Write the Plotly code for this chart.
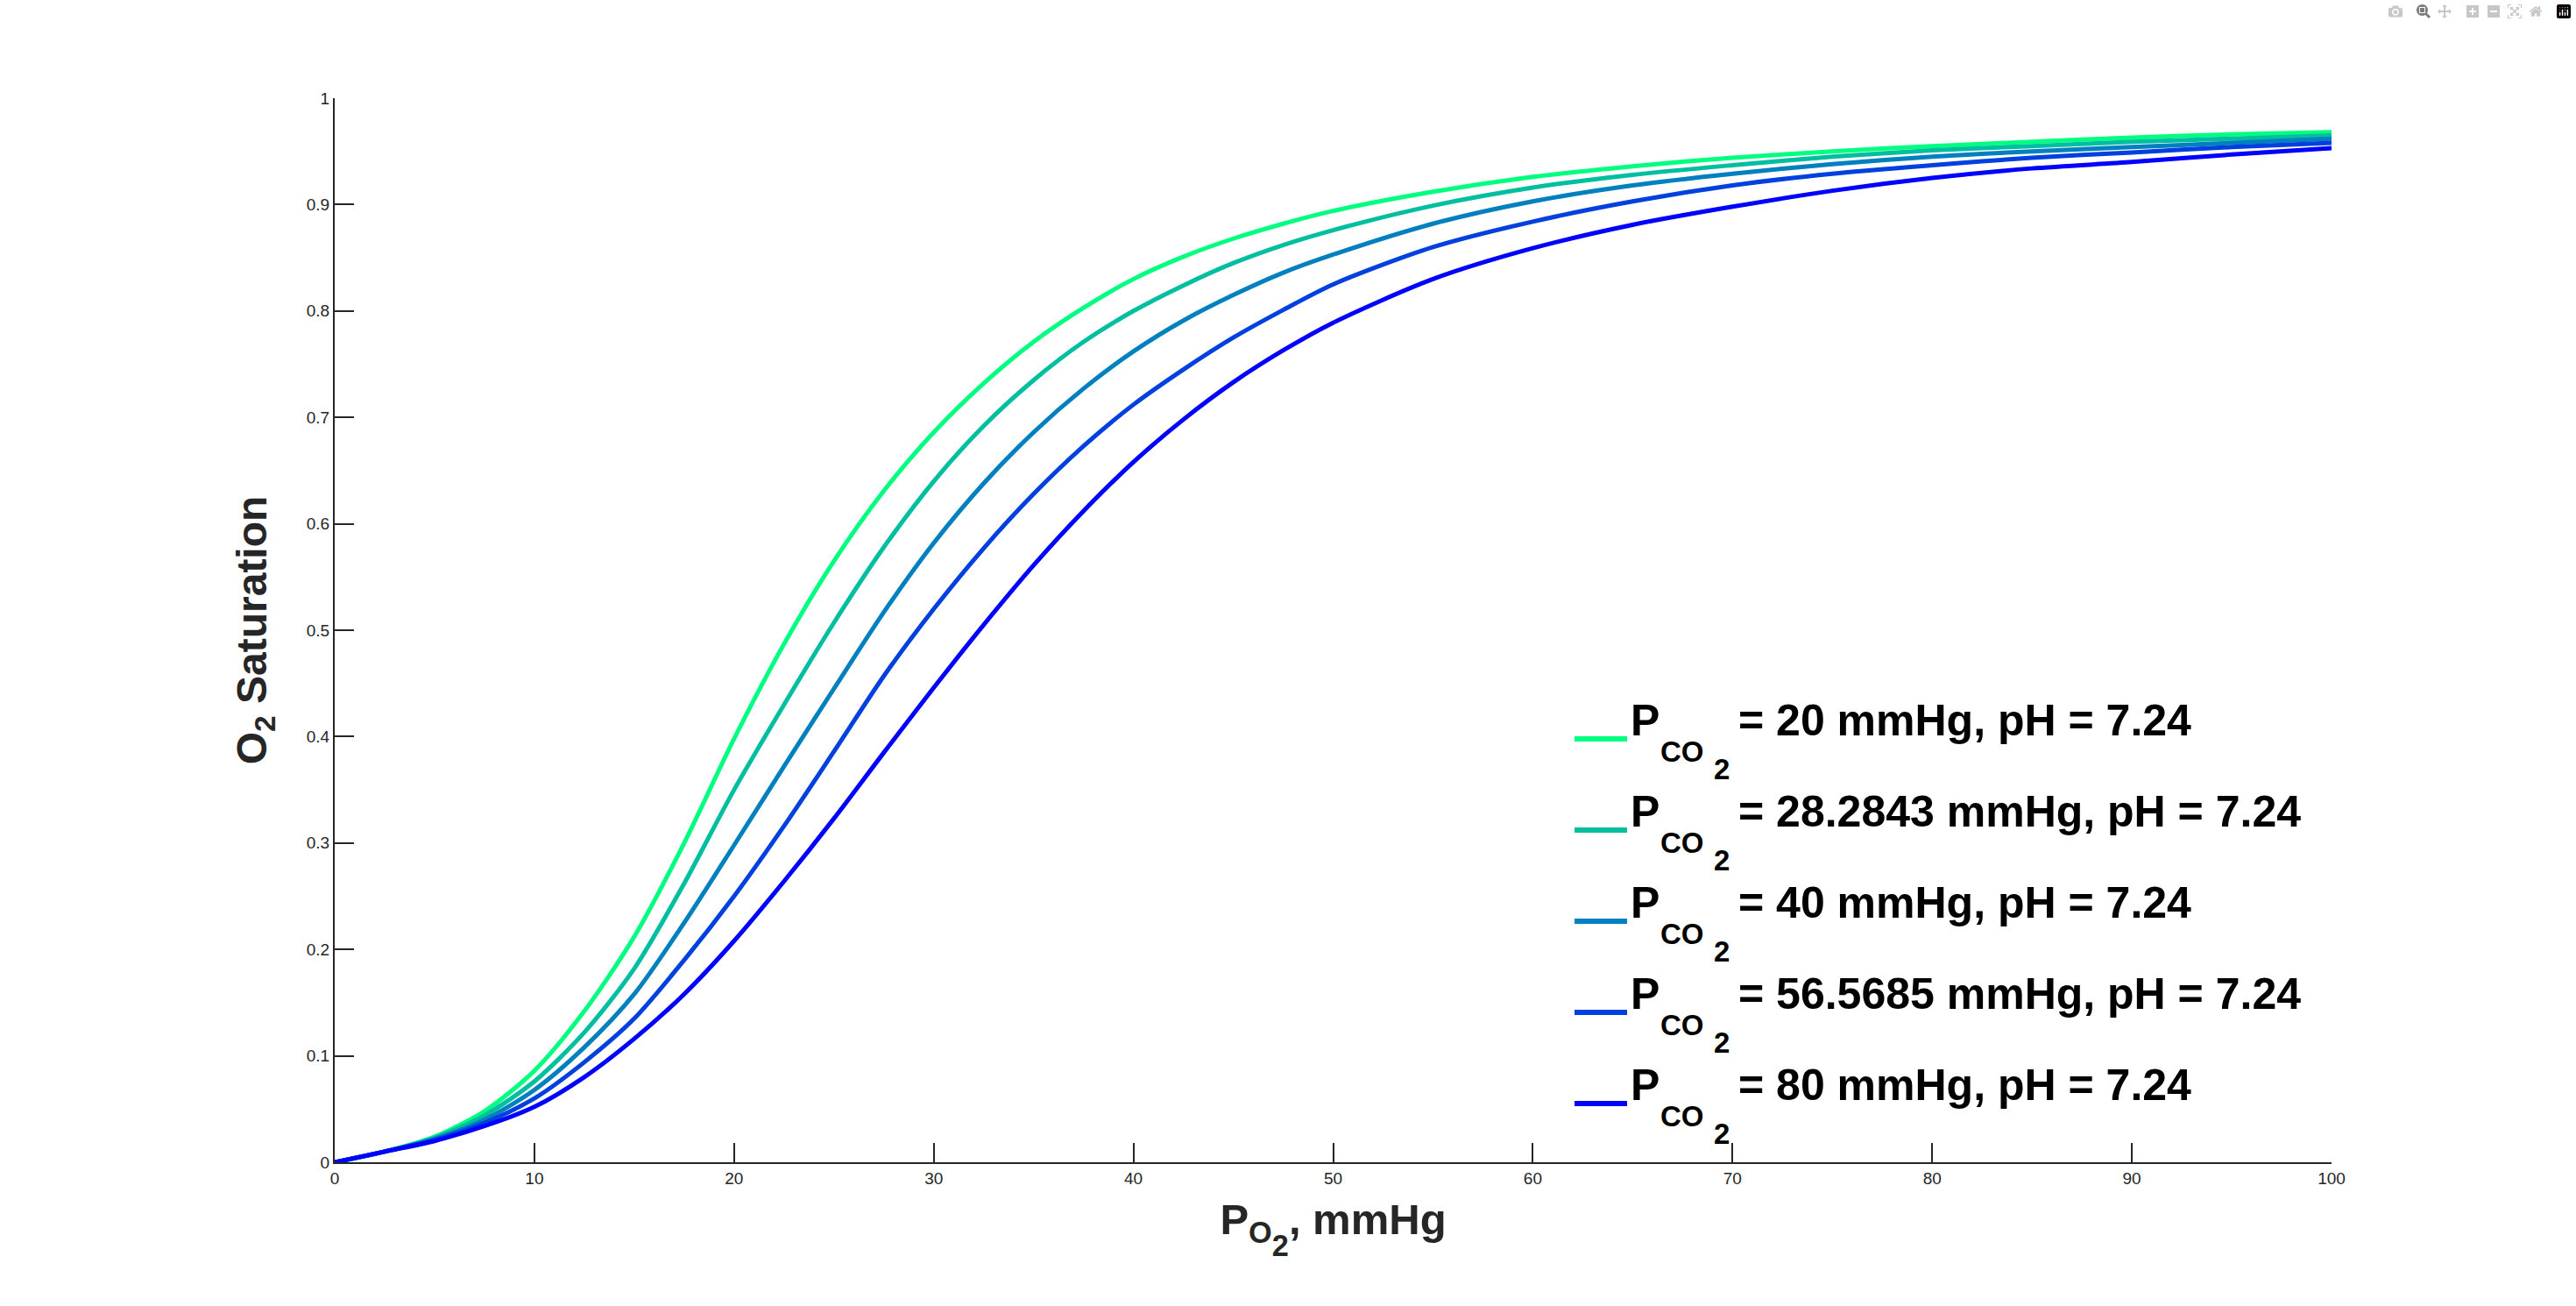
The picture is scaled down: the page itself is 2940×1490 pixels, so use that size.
import plotly.graph_objects as go

# PO2 (mmHg) sample points
po2 = [0, 2.5, 5, 7.5, 10, 12.5, 15, 17.5, 20, 22.5, 25, 27.5, 30, 32.5, 35, 37.5,
       40, 42.5, 45, 47.5, 50, 55, 60, 65, 70, 75, 80, 85, 90, 95, 100]

# O2 saturation for each PCO2
sat_pco2_20 = [0, 0.010, 0.024, 0.048, 0.086, 0.142, 0.212, 0.300, 0.398, 0.487, 0.565,
               0.631, 0.686, 0.732, 0.771, 0.803, 0.830, 0.851, 0.868, 0.882, 0.894,
               0.912, 0.926, 0.936, 0.944, 0.950, 0.955, 0.959, 0.963, 0.966, 0.968]
sat_pco2_28 = [0, 0.010, 0.023, 0.044, 0.076, 0.122, 0.182, 0.262, 0.350, 0.430, 0.507,
               0.578, 0.640, 0.692, 0.735, 0.771, 0.800, 0.824, 0.845, 0.862, 0.876,
               0.899, 0.916, 0.928, 0.937, 0.945, 0.951, 0.955, 0.959, 0.962, 0.965]
sat_pco2_40 = [0, 0.010, 0.022, 0.040, 0.068, 0.108, 0.158, 0.225, 0.298, 0.372, 0.445,
               0.517, 0.582, 0.638, 0.686, 0.727, 0.762, 0.791, 0.815, 0.836, 0.853,
               0.882, 0.903, 0.918, 0.929, 0.938, 0.945, 0.950, 0.954, 0.958, 0.962]
sat_pco2_57 = [0, 0.010, 0.021, 0.037, 0.060, 0.094, 0.135, 0.190, 0.250, 0.316, 0.386,
               0.457, 0.520, 0.577, 0.628, 0.673, 0.712, 0.745, 0.775, 0.801, 0.825,
               0.860, 0.884, 0.903, 0.918, 0.929, 0.937, 0.944, 0.949, 0.954, 0.958]
sat_pco2_80 = [0, 0.010, 0.020, 0.034, 0.052, 0.080, 0.116, 0.158, 0.208, 0.264, 0.323,
               0.385, 0.446, 0.505, 0.561, 0.612, 0.658, 0.698, 0.733, 0.763, 0.789,
               0.830, 0.859, 0.881, 0.898, 0.913, 0.925, 0.934, 0.940, 0.947, 0.953]

series = [sat_pco2_20, sat_pco2_28, sat_pco2_40, sat_pco2_57, sat_pco2_80]
pco2_labels = ["20", "28.2843", "40", "56.5685", "80"]
ph_value = "7.24"
colors = ["#00FF80", "#00BFA0", "#0080BF", "#0040DF", "#0000FF"]

x_ticks = [0, 10, 20, 30, 40, 50, 60, 70, 80, 90, 100]
x_ticktext = ["0", "10", "20", "30", "40", "50", "60", "70", "80", "90", "100"]
y_ticks = [0, 0.1, 0.2, 0.3, 0.4, 0.5, 0.6, 0.7, 0.8, 0.9, 1]
y_ticktext = ["0", "0.1", "0.2", "0.3", "0.4", "0.5", "0.6", "0.7", "0.8", "0.9", "1"]

FONT = "Liberation Sans, Arial, Helvetica, sans-serif"
AXC = "#262626"

# figure / plot-area geometry (pixels)
W, H = 2940, 1490
L, R, T, B = 382, 279, 112, 164
PW, PH = W - L - R, H - T - B

fig = go.Figure()
for vals, lab, col in zip(series, pco2_labels, colors):
    fig.add_trace(go.Scatter(
        x=po2, y=vals, mode="lines",
        line=dict(color=col, width=5, shape="spline", smoothing=0.8),
        name=f"P_CO2 = {lab} mmHg, pH = {ph_value}",
        showlegend=False,
    ))

# hand-built legend (MATLAB-style nested subscripts and long line samples)
row0_base = 838      # baseline of first legend row (px from top)
row_step = 104
big, small = 50, 33
annotations = []
shapes = []
for k, (lab, col) in enumerate(zip(pco2_labels, colors)):
    base = row0_base + k * row_step
    line_y = base + 5
    shapes.append(dict(type="line", xref="paper", yref="paper",
                       x0=(1797 - L) / PW, x1=(1857 - L) / PW,
                       y0=(H - B - line_y) / PH, y1=(H - B - line_y) / PH,
                       line=dict(color=col, width=6)))
    parts = [
        ("P", big, 1862, base),
        ("CO", small, 1896, base + 30),
        ("2", small, 1957, base + 50),
        (f"= {lab} mmHg, pH = {ph_value}", big, 1985, base),
    ]
    for txt, fs, px, bl in parts:
        bottom = bl + 0.212 * fs + 2
        annotations.append(dict(
            text=txt, xref="paper", yref="paper", x=0, y=0,
            xanchor="left", yanchor="bottom",
            xshift=px - L - 2, yshift=(H - B) - bottom,
            showarrow=False, borderpad=1, borderwidth=0,
            font=dict(family=FONT, size=fs, weight="bold", color="black"),
        ))

axis_common = dict(
    showgrid=False, zeroline=False, showline=True, linecolor=AXC, linewidth=2,
    ticks="inside", ticklen=22, tickwidth=1.5, tickcolor=AXC,
    tickfont=dict(family=FONT, size=19, color=AXC),
    mirror=False,
)

fig.update_layout(
    width=W, height=H,
    paper_bgcolor="white", plot_bgcolor="white",
    margin=dict(l=L, r=R, t=T, b=B),
    font=dict(family=FONT, color=AXC),
    xaxis=dict(range=[0, 100], tickvals=x_ticks, ticktext=x_ticktext,
               title=dict(text="P<sub>O<span style=\"baseline-shift:-45%\">2</span></sub>, mmHg",
                          font=dict(family=FONT, size=49, weight="bold", color=AXC),
                          standoff=20),
               **axis_common),
    yaxis=dict(range=[0, 1], tickvals=y_ticks, ticktext=y_ticktext,
               title=dict(text="O<sub>2</sub> Saturation",
                          font=dict(family=FONT, size=48, weight="bold", color=AXC),
                          standoff=30),
               **axis_common),
    annotations=annotations,
    shapes=shapes,
    showlegend=False,
)

fig.write_html("out.html", post_script="document.body.style.margin='0';document.body.style.overflow='hidden';")
